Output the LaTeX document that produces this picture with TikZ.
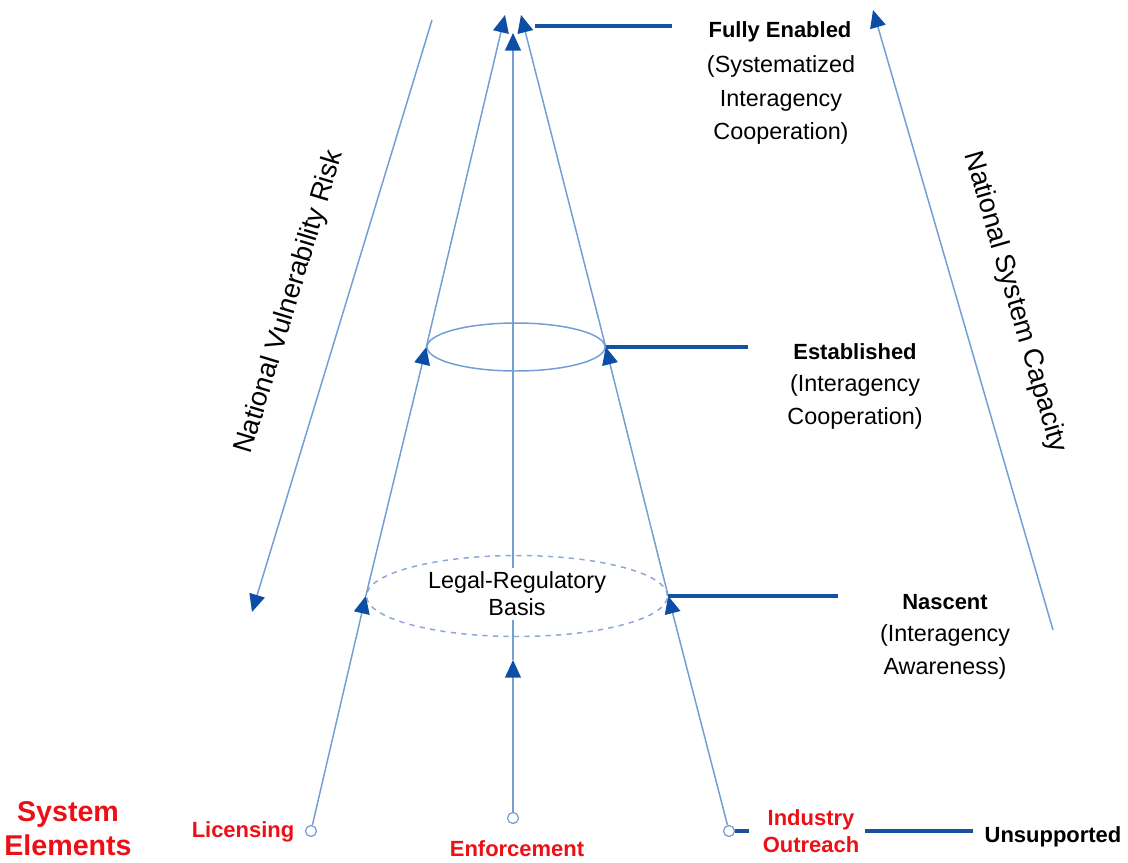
\documentclass[tikz,border=0pt]{standalone}
\usepackage{fontspec}
\setmainfont{Liberation Sans}
\usetikzlibrary{arrows.meta,shapes.geometric,positioning}

\definecolor{linkblue}{RGB}{118,158,214}
\definecolor{headblue}{RGB}{12,78,165}
\definecolor{leadblue}{RGB}{22,82,162}
\definecolor{dashblue}{RGB}{140,168,214}
\definecolor{elemred}{RGB}{236,16,22}

\tikzset{
  link/.style={draw=linkblue, line width=0.85pt},
  arr/.style={link, -{Triangle[length=10pt,width=9pt,color=headblue]}},
  leader/.style={draw=leadblue, line width=2pt},
  ring/.style={ellipse, draw=linkblue, line width=0.85pt, inner sep=0pt},
  elem/.style={circle, draw=linkblue, fill=white, line width=0.7pt, minimum size=0.22cm, inner sep=0pt},
  level/.style={font=\fontsize{12.5}{15}\selectfont\bfseries},
  levelsub/.style={font=\fontsize{13.3}{19}\selectfont, align=center},
  redlabel/.style={text=elemred, font=\fontsize{12.5}{15.5}\selectfont\bfseries, align=center},
  axislabel/.style={font=\fontsize{15.5}{18}\selectfont},
}

\begin{document}
\begin{tikzpicture}[x=0.02cm, y=-0.02cm]

    % Fix the page size
    \useasboundingbox (0,0) rectangle (1128,862);

    % Apex points of the cone
    \coordinate (apexL) at (505,15);
    \coordinate (apexC) at (513,33);
    \coordinate (apexR) at (521,15);
    \coordinate (feL) at (535,26);

    % Levels drawn as rings
    \node[ring, minimum width=3.56cm, minimum height=0.96cm] (est) at (516,347) {};
    \node[ring, draw=dashblue, dashed, minimum width=6.02cm, minimum height=1.62cm] (nas) at (517,596) {};
    \node[font=\fontsize{13.3}{15.3}\selectfont, align=center, inner sep=2pt] (legal) at (517,594) {Legal-Regulatory\\Basis};

    % System elements
    \node[elem] (lic) at (311,831) {};
    \node[elem] (enf) at (513,818) {};
    \node[elem] (out) at (729,831) {};

    \node[redlabel, font=\fontsize{16.3}{19.3}\selectfont\bfseries] (sys) at (68,829) {System\\Elements};
    \node[redlabel] (licl) at (243,832) {Licensing};
    \node[redlabel] (enfl) at (517,849) {Enforcement};
    \node[redlabel] (ind) at (811,831) {Industry\\Outreach};
    \node[level] (uns) at (1053,837) {Unsupported};

    % Level labels
    \node[level] (full) at (780,32) {Fully Enabled};
    \node[levelsub] (fullsub) at (781,100) {(Systematized\\Interagency\\Cooperation)};
    \node[level] (estl) at (855,352) {Established};
    \node[levelsub] (estsub) at (855,402) {(Interagency\\Cooperation)};
    \node[level] (nasl) at (945,602) {Nascent};
    \node[levelsub] (nassub) at (945,652) {(Interagency\\Awareness)};

    % Left side of the cone
    \draw[arr] (lic) -- (nas.west);
    \draw[arr] (nas.west) -- (est.west);
    \draw[arr] (est.west) -- (apexL);

    % Right side of the cone
    \draw[arr] (out) -- (nas.east);
    \draw[arr] (nas.east) -- (est.east);
    \draw[arr] (est.east) -- (apexR);

    % Centre line
    \coordinate (midtip) at (513,660);
    \draw[arr] (enf) -- (midtip);
    \draw[link] (midtip) -- (legal.south -| midtip);
    \draw[arr] (legal.north -| midtip) -- (apexC);

    % Leaders to the level labels
    \coordinate (estEnd) at (748,347);
    \coordinate (nasEnd) at (838,596);
    \draw[leader, shorten >=0.6cm] (feL) -- (feL -| full.west);
    \draw[leader] (est.east) -- (estEnd);
    \draw[leader] (nas.east) -- (nasEnd);
    \draw[leader, shorten >=0.16cm] (out.east) -- (out.east -| ind.west);
    \draw[leader, shorten >=0.1cm] (out.east -| ind.east) -- (out.east -| uns.west);

    % Side arrows
    \coordinate (riskTop) at (432,20);
    \coordinate (riskBot) at (252,612);
    \coordinate (capBot) at (1053,630);
    \coordinate (capTop) at (873,10);
    \draw[arr] (riskTop) -- (riskBot);
    \draw[arr] (capBot) -- (capTop);
    \node[axislabel, rotate=73.1] (risk) at (290,302) {National Vulnerability Risk};
    \node[axislabel, rotate=-73.8] (cap) at (1015,302) {National System Capacity};

\end{tikzpicture}
\end{document}
